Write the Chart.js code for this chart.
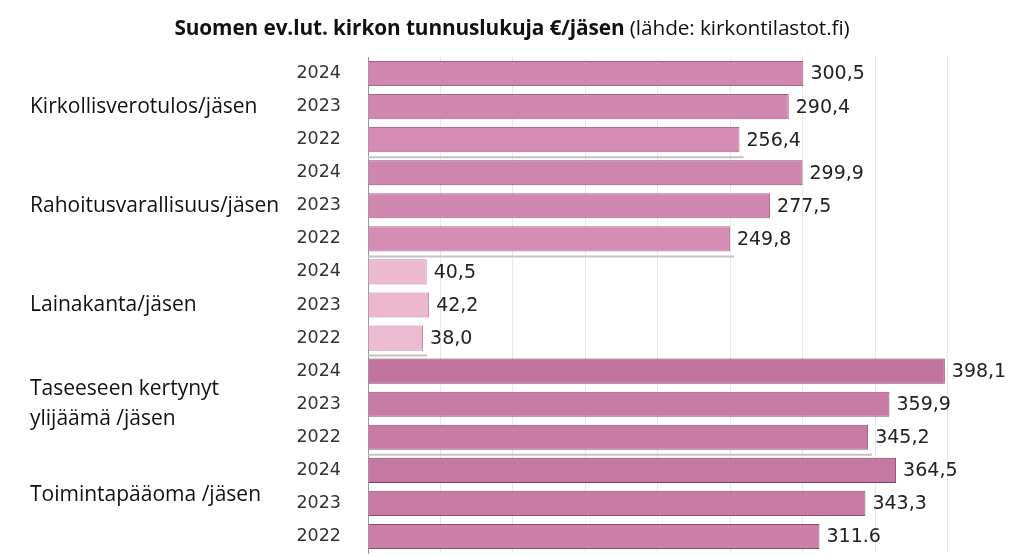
<!DOCTYPE html>
<html>
<head>
<meta charset="utf-8">
<script src="https://cdn.jsdelivr.net/npm/chart.js@4.4.1/dist/chart.umd.min.js"></script>
<style>
  html, body { margin:0; padding:0; background:#fff; }
  #wrap { position:relative; width:1024px; height:557px; overflow:hidden; }
  #title { position:absolute; left:0; top:13px; width:1024px; text-align:center; z-index:2;
           font-family:"Open Sans", "Noto Sans", sans-serif; font-size:20.8px; color:#111; white-space:nowrap; letter-spacing:-0.1px; }
  #title b { font-weight:700; }
  #box { position:absolute; left:0; top:0; width:1024px; height:557px; }
</style>
</head>
<body>
<div id="wrap">
  <div id="title"><b>Suomen ev.lut. kirkon tunnuslukuja €/jäsen</b> (lähde: kirkontilastot.fi)</div>
  <div id="box"><canvas id="c"></canvas></div>
</div>
<script>
// ---- data ----
const groups = ["Kirkollisverotulos/jäsen", "Rahoitusvarallisuus/jäsen", "Lainakanta/jäsen", "Taseeseen kertynyt|ylijäämä /jäsen", "Toimintapääoma /jäsen"];
const years = ["2024", "2023", "2022"];
const kirkollisvero = [300.5, 290.4, 256.4];
const rahoitusvarallisuus = [299.9, 277.5, 249.8];
const lainakanta = [40.5, 42.2, 38.0];
const taseeseenKertynyt = [398.1, 359.9, 345.2];
const toimintapaaoma = [364.5, 343.3, 311.6];
const valueTexts = ["300,5","290,4","256,4","299,9","277,5","249,8","40,5","42,2","38,0","398,1","359,9","345,2","364,5","343,3","311.6"];
const xTicks = [0, 50, 100, 150, 200, 250, 300, 350, 400];

// ---- styles ----
const fillColors = [
  "#d086ae","#d087b0","#d68db5",
  "#cf86ae","#d087b0","#d68db5",
  "#edb9cf","#edb8ce","#ecbbd1",
  "#c1739d","#c77ba5","#c77ba5",
  "#c579a2","#c77aa3","#cc80a9"
];
const borderColors = [
  "#a9628a","#a9628a","#b06a92",
  "#8e4a72","#a9628a","#b06a92",
  "#b8889e","#c07898","#b8889e",
  "#7e3d64","#8e4a72","#8e4a72",
  "#7e3d64","#8e4a72","#8e4a72"
];

const series = [kirkollisvero, rahoitusvarallisuus, lainakanta, taseeseenKertynyt, toimintapaaoma];
const labels = [];
const values = [];
series.forEach(s => s.forEach((v, i) => { labels.push(years[i]); values.push(v); }));

const overlay = {
  id: 'overlay',
  beforeDatasetsDraw(chart) {
    const ctx = chart.ctx, y = chart.scales.y, x = chart.scales.x;
    ctx.save();
    ctx.strokeStyle = '#c4c4c4';
    ctx.lineWidth = 2;
    for (let g = 0; g < groups.length - 1; g++) {
      const idx = g * 3 + 2;
      const yy = (y.getPixelForValue(idx) + y.getPixelForValue(idx + 1)) / 2 + 1;
      ctx.beginPath();
      ctx.moveTo(x.left, yy);
      ctx.lineTo(x.getPixelForValue(values[idx]) + 4, yy);
      ctx.stroke();
    }
    ctx.restore();
  },
  afterDatasetsDraw(chart) {
    const ctx = chart.ctx, y = chart.scales.y, x = chart.scales.x;
    ctx.save();
    ctx.font = '19px "DejaVu Sans", sans-serif';
    ctx.fillStyle = '#222';
    ctx.textBaseline = 'middle';
    ctx.textAlign = 'left';
    values.forEach((v, i) => {
      ctx.fillText(valueTexts[i], x.getPixelForValue(v) + 7, y.getPixelForValue(i) + 1);
    });
    ctx.font = '21px "Open Sans", "Noto Sans", sans-serif';
    ctx.fillStyle = '#111';
    groups.forEach((g, gi) => {
      const lines = g.split('|');
      let cy = y.getPixelForValue(gi * 3 + 1);
      if (gi === 4) cy -= 8;
      const lh = 30;
      lines.forEach((ln, li) => {
        ctx.fillText(ln, 30, cy + (li - (lines.length - 1) / 2) * lh);
      });
    });
    ctx.restore();
  }
};

new Chart(document.getElementById('c'), {
  type: 'bar',
  data: {
    labels: labels,
    datasets: [{
      data: values,
      backgroundColor: fillColors,
      borderColor: borderColors,
      borderWidth: 1,
      barPercentage: 0.76,
      categoryPercentage: 1.0
    }]
  },
  options: {
    indexAxis: 'y',
    responsive: true,
    maintainAspectRatio: false,
    animation: false,
    devicePixelRatio: 1,
    layout: { padding: { top: 57, bottom: 4, left: 0, right: 4 } },
    plugins: { legend: { display: false }, tooltip: { enabled: false } },
    scales: {
      x: {
        display: true,
        min: 0, max: 450,
        afterBuildTicks(scale) { scale.ticks = xTicks.map(v => ({ value: v })); },
        afterFit(scale) { scale.height = 0; },
        ticks: { display: false },
        grid: { color: '#e8e8e8', lineWidth: 1, drawTicks: false },
        border: { display: false }
      },
      y: {
        afterFit(scale) { scale.width = 368; scale.paddingTop = 0; scale.paddingBottom = 0; },
        ticks: {
          padding: 27,
          color: '#333',
          font: { family: '"DejaVu Sans", sans-serif', size: 17.5 }
        },
        grid: { display: false, drawTicks: false },
        border: { display: true, color: '#9a9a9a', dash: [2, 2], width: 1 }
      }
    }
  },
  plugins: [overlay]
});
</script>
</body>
</html>
